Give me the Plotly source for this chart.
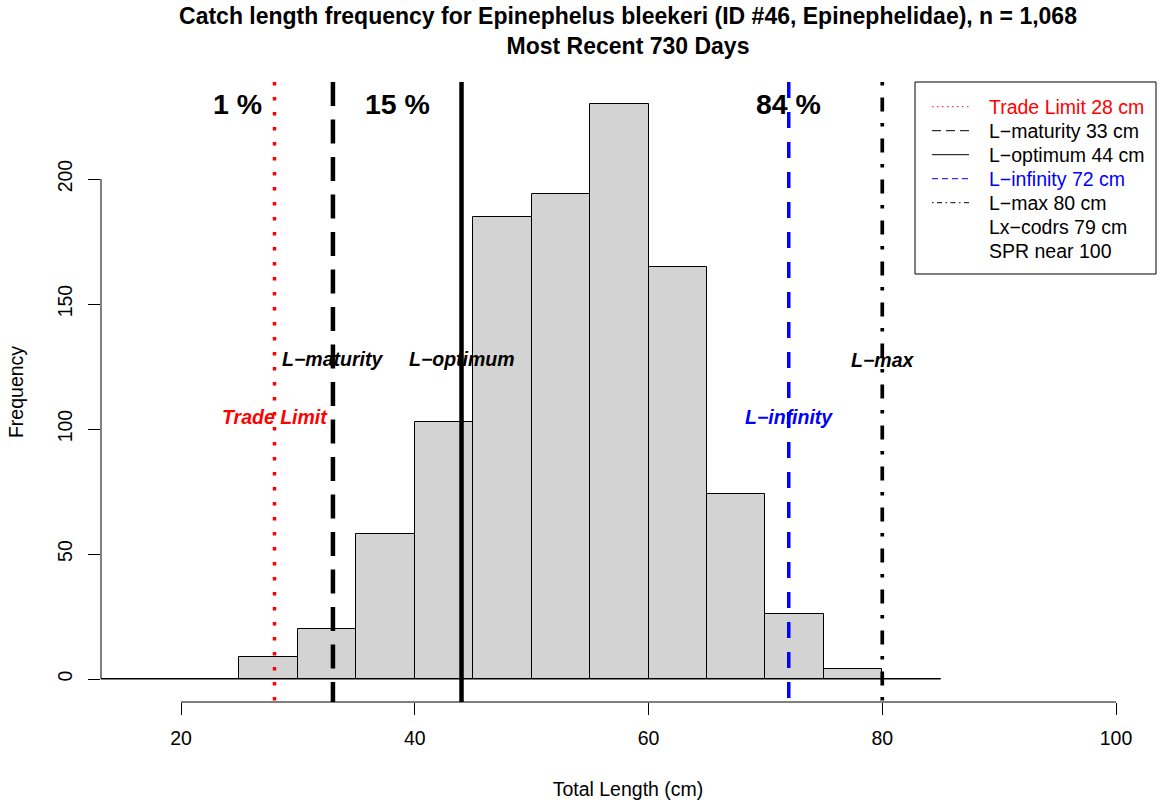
import plotly.graph_objects as go

# Length bins (cm) and catch counts per bin
bin_edges = [10, 15, 20, 25, 30, 35, 40, 45, 50, 55, 60, 65, 70, 75, 80, 85]
counts = [0, 0, 0, 9, 20, 58, 103, 185, 194, 230, 165, 74, 26, 4, 0]

# Reference lengths (cm)
ref_names = ["Trade Limit", "L−maturity", "L−optimum", "L−infinity", "L−max"]
ref_lengths = [28, 33, 44, 72, 80]
ref_colors = ["red", "black", "black", "blue", "black"]
lx_codrs = 79
spr_note = "SPR near 100"

# Share of catch in each length class
pct_labels = ["1 %", "15 %", "84 %"]
pct_x = [24.8, 38.5, 72]

x_ticks = [20, 40, 60, 80, 100]
y_ticks = [0, 50, 100, 150, 200]

FONT = "Liberation Sans, Arial, Helvetica, sans-serif"
W, H = 1161, 803
M_L, M_R, M_T, M_B = 101, 6, 82, 101
PW, PH = W - M_L - M_R, H - M_T - M_B

n_total = sum(counts)
centers = [(a + b) / 2 for a, b in zip(bin_edges[:-1], bin_edges[1:])]


def px_x(px):
    return (px - M_L) / PW


def px_y(py):
    return (H - M_B - py) / PH


fig = go.Figure()

# zero-count bins still show as a line along the baseline
fig.add_trace(go.Scatter(x=[bin_edges[0], bin_edges[-1]], y=[0, 0], mode="lines",
                         line=dict(color="black", width=1), showlegend=False,
                         hoverinfo="skip"))
fig.add_trace(go.Bar(x=centers, y=counts, width=5,
                     marker=dict(color="#D3D3D3", line=dict(color="black", width=1)),
                     showlegend=False))

# vertical reference lines
plot_dash = ["3.5px,11.5px", "24px,13.5px", "solid", "16px,14px", "3.5px,12px,14px,11.5px"]
plot_width = [3.5, 4.5, 4.5, 3.5, 3.7]
for val, col, pd, pw in zip(ref_lengths, ref_colors, plot_dash, plot_width):
    fig.add_shape(type="line", xref="x", yref="paper", x0=val, x1=val, y0=1, y1=0,
                  line=dict(color=col, width=pw, dash=pd), layer="above")

# line labels
label_y = [104.8, 128, 128, 104.8, 127.5]
for name, val, col, ly in zip(ref_names, ref_lengths, ref_colors, label_y):
    fig.add_annotation(x=val, y=ly, text=name, showarrow=False,
                       font=dict(family=FONT, size=19.5, color=col, weight="bold", style="italic"))

# percentage labels
for lab, px in zip(pct_labels, pct_x):
    fig.add_annotation(x=px, y=max(counts), text=lab, showarrow=False,
                       font=dict(family=FONT, size=28.5, color="black", weight="bold"))

# legend box in the top-right corner
legend_dash = ["1.5px,3.5px", "9px,5px", "solid", "6px,4px", "1.5px,3.5px,5px,3.5px"]
fig.add_shape(type="rect", xref="paper", yref="paper",
              x0=px_x(915), x1=px_x(1156), y0=px_y(274), y1=px_y(82),
              line=dict(color="black", width=1), fillcolor="white", layer="above")
legend_rows = [(f"{n} {v} cm", c, d) for n, v, c, d in zip(ref_names, ref_lengths, ref_colors, legend_dash)]
legend_rows += [(f"Lx−codrs {lx_codrs} cm", "black", None), (spr_note, "black", None)]
for i, (txt, col, dash) in enumerate(legend_rows):
    ry = px_y(106.7 + 24 * i)
    if dash is not None:
        fig.add_shape(type="line", xref="paper", yref="paper",
                      x0=px_x(932), x1=px_x(969), y0=ry, y1=ry,
                      line=dict(color=col, width=1, dash=dash), layer="above")
    fig.add_annotation(xref="paper", yref="paper", x=px_x(987), y=ry, text=txt,
                       xanchor="left", yanchor="middle", showarrow=False,
                       font=dict(family=FONT, size=19.5, color=col))

# axis lines spanning only the tick range
fig.add_shape(type="line", xref="x", yref="paper", x0=x_ticks[0], x1=x_ticks[-1], y0=0, y1=0,
              line=dict(color="black", width=1))
fig.add_shape(type="line", xref="paper", yref="y", x0=0, x1=0, y0=y_ticks[0], y1=y_ticks[-1],
              line=dict(color="black", width=1))

fig.update_layout(
    width=W, height=H,
    margin=dict(l=M_L, r=M_R, t=M_T, b=M_B),
    paper_bgcolor="white", plot_bgcolor="white",
    font=dict(family=FONT, color="black", size=19.5),
    title=dict(text=f"<b>Catch length frequency for Epinephelus bleekeri (ID #46, Epinephelidae), n = {n_total:,}</b>"
                    "<br><b>Most Recent 730 Days</b>",
               x=0.5, xref="paper", xanchor="center",
               y=1 - 24 / 803, yref="container", yanchor="top",
               font=dict(family=FONT, size=23, color="black")),
    bargap=0,
    showlegend=False,
    xaxis=dict(range=[13.155, 103.335], tickvals=x_ticks, ticks="outside", ticklen=12,
               tickcolor="black", tickwidth=1, showgrid=False, zeroline=False, showline=False,
               tickfont=dict(size=19.5), ticklabelstandoff=7, fixedrange=True,
               title=dict(text="Total Length (cm)", standoff=33, font=dict(size=19.5))),
    yaxis=dict(range=[-9.2, 238.8], tickvals=y_ticks, ticks="outside", ticklen=12,
               tickcolor="black", tickwidth=1, showgrid=False, zeroline=False, showline=False,
               tickangle=-90, tickfont=dict(size=19.5), ticklabelstandoff=8, fixedrange=True,
               title=dict(text="Frequency", standoff=25, font=dict(size=19.5))),
)

fig.write_html("out.html")
